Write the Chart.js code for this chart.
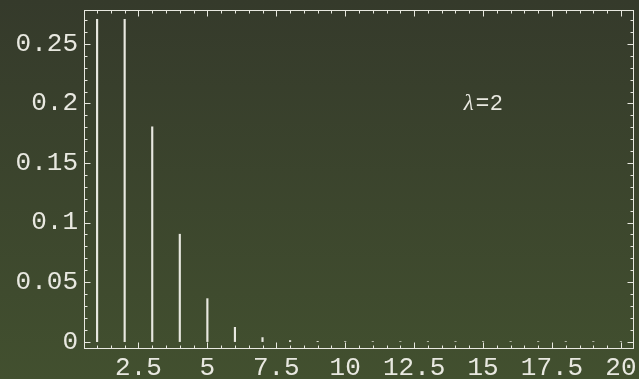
<!DOCTYPE html>
<html>
<head>
<meta charset="utf-8">
<script src="https://cdn.jsdelivr.net/npm/chart.js@4/dist/chart.umd.min.js"></script>
<style>
  html, body { margin: 0; padding: 0; background: #3b4230; }
  #wrap { width: 639px; height: 379px; }
</style>
</head>
<body>
<div id="wrap"><canvas id="c" width="639" height="379"></canvas></div>
<script>
// Poisson probabilities for lambda = 2, k = 1..20
const ks = [1, 2, 3, 4, 5, 6, 7, 8, 9, 10, 11, 12, 13, 14, 15, 16, 17, 18, 19, 20];
const probs = [0.2707, 0.2707, 0.1804, 0.0902, 0.0361, 0.0120, 0.0034, 0.0009, 0.0002, 0.00004,
               0.00001, 0, 0, 0, 0, 0, 0, 0, 0, 0];

const xTickValues = [2.5, 5, 7.5, 10, 12.5, 15, 17.5, 20];
const xTickLabels = ['2.5', '5', '7.5', '10', '12.5', '15', '17.5', '20'];
const yTickValues = [0, 0.05, 0.1, 0.15, 0.2, 0.25];
const yTickLabels = ['0', '0.05', '0.1', '0.15', '0.2', '0.25'];

const annotationParts = ['λ', '=', '2'];
const annotationAt = { x: 15, y: 0.2 };

const ink = '#e8e8e0';
const tickFont = { family: "'Liberation Mono', monospace", size: 26 };

// Gradient page background
const backdrop = {
  id: 'backdrop',
  beforeDraw(chart) {
    const { ctx, width, height } = chart;
    const g = ctx.createLinearGradient(0, 0, 0, height);
    g.addColorStop(0, '#353a2b');
    g.addColorStop(1, '#42502f');
    ctx.save();
    ctx.fillStyle = g;
    ctx.fillRect(0, 0, width, height);
    ctx.restore();
  }
};

// Frame with inward-pointing major and minor ticks on all four sides, plus the label
const frame = {
  id: 'frame',
  afterDraw(chart) {
    const { ctx, chartArea: a, scales } = chart;
    const xs = scales.x, ys = scales.y;
    const L = Math.round(a.left) + 0.5, R = Math.round(a.right) - 0.5;
    const T = Math.round(a.top) + 0.5, B = Math.round(a.bottom) - 0.5;
    ctx.save();
    ctx.strokeStyle = ink;
    ctx.lineWidth = 1;
    ctx.strokeRect(L, T, R - L, B - T);

    ctx.beginPath();
    // x ticks every 0.5, major every 2.5
    for (let i = 2; i <= 40; i++) {
      const v = i / 2;
      const px = Math.round(xs.getPixelForValue(v)) + 0.5;
      const len = (v % 2.5 === 0) ? 6 : 3;
      ctx.moveTo(px, B); ctx.lineTo(px, B - len);
      ctx.moveTo(px, T); ctx.lineTo(px, T + len);
    }
    // y ticks every 0.01, major every 0.05
    for (let i = 0; i <= 27; i++) {
      const v = i / 100;
      const py = Math.round(ys.getPixelForValue(v)) + 0.5;
      const len = (i % 5 === 0) ? 6 : 3;
      ctx.moveTo(L, py); ctx.lineTo(L + len, py);
      ctx.moveTo(R, py); ctx.lineTo(R - len, py);
    }
    ctx.stroke();

    // lambda annotation: italic symbol, then "=" and "2" with loose spacing
    const cx = xs.getPixelForValue(annotationAt.x);
    const cy = ys.getPixelForValue(annotationAt.y);
    ctx.fillStyle = ink;
    ctx.textBaseline = 'middle';
    ctx.textAlign = 'left';
    const fonts = [
      "italic 23px 'Liberation Serif', serif",
      "23px 'Liberation Sans', Arial, sans-serif",
      "22px 'Liberation Sans', Arial, sans-serif"
    ];
    const gaps = [2, 1, 0];
    const widths = annotationParts.map((p, i) => { ctx.font = fonts[i]; return ctx.measureText(p).width; });
    const total = widths.reduce((s, w) => s + w, 0) + gaps[0] + gaps[1];
    let x = cx - total / 2;
    annotationParts.forEach((p, i) => {
      ctx.font = fonts[i];
      ctx.fillText(p, x, cy);
      x += widths[i] + gaps[i];
    });
    ctx.restore();
  }
};

new Chart(document.getElementById('c'), {
  type: 'bar',
  data: {
    datasets: [{
      data: ks.map((k, i) => ({ x: k, y: probs[i] })),
      backgroundColor: ink,
      borderWidth: 0,
      barThickness: 1.5
    }]
  },
  options: {
    responsive: false,
    animation: false,
    devicePixelRatio: 1,
    layout: { padding: { top: 10, right: 5, left: 0, bottom: 0 } },
    plugins: { legend: { display: false }, tooltip: { enabled: false } },
    scales: {
      x: {
        type: 'linear',
        offset: false,
        min: 0.525,
        max: 20.475,
        grid: { display: false, drawTicks: false },
        border: { display: false },
        afterBuildTicks(s) { s.ticks = xTickValues.map(v => ({ value: v })); },
        afterFit(s) { s.height = 30; s.paddingLeft = 0; s.paddingRight = 0; },
        ticks: {
          autoSkip: false,
          maxRotation: 0,
          padding: 4,
          color: ink,
          font: tickFont,
          callback: (v, i) => xTickLabels[i]
        }
      },
      y: {
        type: 'linear',
        min: -0.0062,
        max: 0.2785,
        grid: { display: false, drawTicks: false },
        border: { display: false },
        afterBuildTicks(s) { s.ticks = yTickValues.map(v => ({ value: v })); },
        afterFit(s) { s.width = 84; s.paddingTop = 0; s.paddingBottom = 0; },
        ticks: {
          autoSkip: false,
          padding: 6,
          color: ink,
          font: tickFont,
          callback: (v, i) => yTickLabels[i]
        }
      }
    }
  },
  plugins: [backdrop, frame]
});
</script>
</body>
</html>
